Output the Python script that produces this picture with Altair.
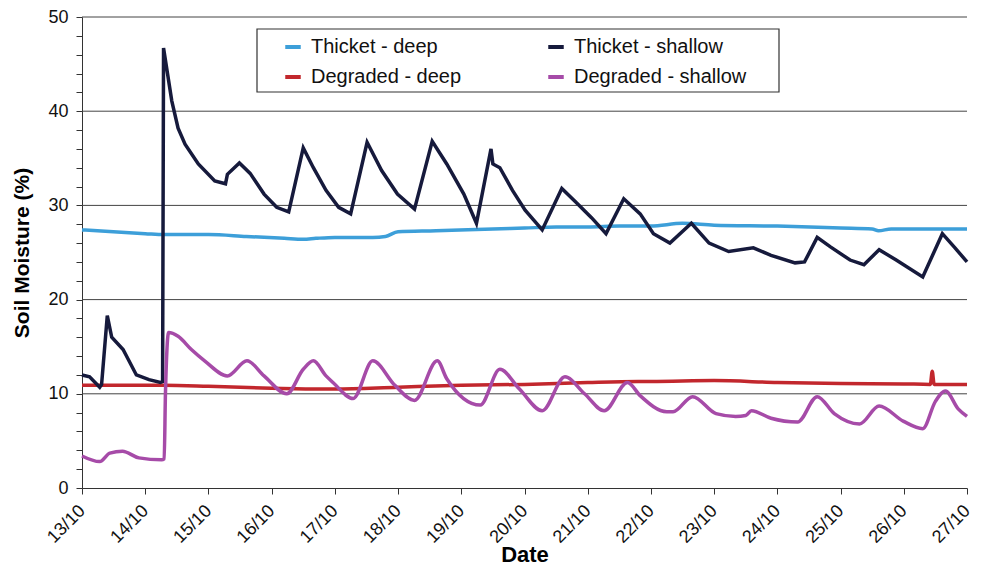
import altair as alt
import pandas as pd

# x = days since 13/10 00:00, y = soil moisture (%)
thicket_shallow_x = [0.00, 0.12, 0.28, 0.31, 0.40, 0.47, 0.65, 0.86, 1.06, 1.24, 1.275, 1.29, 1.42, 1.52, 1.63,
                     1.84, 2.10, 2.27, 2.30, 2.49, 2.66, 2.88, 3.08, 3.27, 3.50, 3.66, 3.86, 4.06, 4.25, 4.51,
                     4.74, 4.99, 5.26, 5.54, 5.77, 6.04, 6.24, 6.47, 6.50, 6.61, 6.81, 7.01, 7.28, 7.59, 7.79,
                     8.06, 8.29, 8.57, 8.83, 9.04, 9.30, 9.64, 9.92, 10.23, 10.62, 10.90, 11.28, 11.43, 11.63,
                     11.84, 12.15, 12.37, 12.61, 12.88, 13.30, 13.61, 13.81, 14.00]
thicket_shallow_y = [12.0, 11.8, 10.7, 11.0, 18.3, 16.0, 14.7, 12.0, 11.5, 11.2, 11.3, 46.7, 41.1, 38.2, 36.5,
                     34.4, 32.6, 32.3, 33.3, 34.5, 33.4, 31.2, 29.8, 29.3, 36.1, 34.0, 31.6, 29.8, 29.1, 36.7,
                     33.7, 31.2, 29.6, 36.8, 34.4, 31.2, 28.1, 36.0, 34.4, 34.0, 31.6, 29.5, 27.4, 31.8, 30.5,
                     28.7, 27.0, 30.7, 29.1, 27.0, 26.0, 28.1, 26.0, 25.1, 25.5, 24.7, 23.9, 24.0, 26.6,
                     25.6, 24.2, 23.7, 25.3, 24.2, 22.4, 27.0, 25.5, 24.0]

thicket_deep_x = [0.0, 1.0, 1.3, 2.0, 2.6, 3.2, 3.5, 3.7, 4.0, 4.6, 4.8, 5.0, 5.6, 6.5, 7.0, 7.5, 8.0,
                  8.5, 9.0, 9.5, 10.0, 11.0, 12.0, 12.5, 12.6, 12.8, 13.5, 14.0]
thicket_deep_y = [27.4, 27.0, 26.9, 26.9, 26.7, 26.5, 26.4, 26.5, 26.6, 26.6, 26.7, 27.2, 27.3, 27.5, 27.6,
                  27.7, 27.7, 27.8, 27.8, 28.1, 27.9, 27.8, 27.6, 27.5, 27.3, 27.5, 27.5, 27.5]

degraded_deep_x = [0.0, 1.0, 1.3, 2.0, 3.0, 3.8, 4.0, 5.0, 6.0, 7.0, 8.0, 8.8, 9.0, 10.0, 11.0, 12.0,
                   13.0, 13.42, 13.45, 13.48, 14.0]
degraded_deep_y = [10.9, 10.9, 10.9, 10.8, 10.6, 10.5, 10.5, 10.7, 10.9, 11.0, 11.2, 11.3, 11.3, 11.4,
                   11.2, 11.1, 11.05, 11.0, 12.4, 11.0, 11.0]

degraded_shallow_x = [0.00, 0.28, 0.44, 0.64, 0.90, 1.26, 1.30, 1.32, 1.37, 1.52, 1.73, 1.94, 2.30, 2.61,
                      2.88, 3.24, 3.50, 3.66, 3.86, 3.97, 4.29, 4.60, 4.95, 5.26, 5.62, 5.77, 6.30, 6.61,
                      6.92, 7.28, 7.64, 7.95, 8.26, 8.63, 8.83, 9.25, 9.35, 9.66, 10.03, 10.34, 10.50,
                      10.59, 10.90, 11.32, 11.63, 11.90, 12.30, 12.61, 12.99, 13.30, 13.50, 13.66, 13.86, 14.00]
degraded_shallow_y = [3.4, 2.8, 3.7, 3.9, 3.2, 3.0, 3.1, 10.0, 16.5, 16.1, 14.7, 13.5, 11.9, 13.5,
                      11.9, 10.0, 12.6, 13.5, 11.9, 11.2, 9.5, 13.5, 10.9, 9.3, 13.5, 11.6, 8.8, 12.6,
                      10.5, 8.2, 11.8, 10.0, 8.2, 11.2, 9.8, 8.1, 8.1, 9.7, 7.9, 7.6, 7.7,
                      8.2, 7.4, 7.0, 9.7, 7.9, 6.8, 8.7, 7.1, 6.3, 9.2, 10.3, 8.4, 7.6]

grid_values = [10, 20, 30, 40, 50]
y_tick_values = list(range(0, 51, 2))
x_tick_values = list(range(0, 15))

# legend is laid out column by column: this order gives rows
# "Thicket - deep | Thicket - shallow" and "Degraded - deep | Degraded - shallow"
series_names = ["Thicket - deep", "Degraded - deep", "Thicket - shallow", "Degraded - shallow"]
series_colors = ["#3d9fd9", "#c2272d", "#161a3c", "#a64ba8"]

frames = []
for name, xs, ys in [
    ("Thicket - deep", thicket_deep_x, thicket_deep_y),
    ("Degraded - deep", degraded_deep_x, degraded_deep_y),
    ("Thicket - shallow", thicket_shallow_x, thicket_shallow_y),
    ("Degraded - shallow", degraded_shallow_x, degraded_shallow_y),
]:
    frames.append(pd.DataFrame({"day": xs, "moisture": ys, "series": name}))
df = pd.concat(frames, ignore_index=True)

x_enc = alt.X("day:Q",
              scale=alt.Scale(domain=[0, 14], nice=False, zero=False),
              axis=alt.Axis(values=x_tick_values,
                            labelExpr="(13 + datum.value) + '/10'",
                            labelAngle=-45, labelAlign="right", labelBaseline="middle",
                            labelFontSize=18, labelPadding=14,
                            grid=False, ticks=True, tickSize=6, tickColor="#333", domainColor="#333",
                            labelColor="#111", title="Date", titleFontSize=22,
                            titleFontWeight="bold", titleBaseline="alphabetic", titleY=73,
                            labelOverlap=False))
y_axis = alt.Axis(values=y_tick_values,
                  labelExpr="datum.value % 10 === 0 ? datum.label : ''",
                  grid=False, ticks=True, tickWidth=1, tickSize=6, tickColor="#333",
                  labelFontSize=18, labelPadding=8,
                  domainColor="#333", labelColor="#111", labelOverlap=False,
                  title="Soil Moisture (%)", titleFontSize=21, titleFontWeight="bold",
                  titlePadding=15)
y_scale = alt.Scale(domain=[0, 50], nice=False)
y_enc = alt.Y("moisture:Q", scale=y_scale, axis=y_axis)
color_enc = alt.Color("series:N",
                      scale=alt.Scale(domain=series_names, range=series_colors),
                      legend=alt.Legend(orient="none", legendX=201, legendY=20, columns=2,
                                        title=None, symbolType="stroke", symbolSize=240,
                                        symbolStrokeWidth=4, labelFontSize=20, labelOffset=8,
                                        columnPadding=78, rowPadding=10, padding=0,
                                        labelLimit=400, labelColor="#111"))

grid = alt.Chart(pd.DataFrame({"moisture": grid_values})).mark_rule(
    color="#444", strokeWidth=1
).encode(y=y_enc)

frame = alt.Chart(pd.DataFrame({"a": [0]})).mark_rect(
    fill="white", stroke="#333", strokeWidth=1.2
).encode(x=alt.value(175), x2=alt.value(697), y=alt.value(12), y2=alt.value(75))

base = alt.Chart(df).encode(x=x_enc, y=y_enc, color=color_enc)
deep_lines = base.transform_filter(
    alt.FieldOneOfPredicate(field="series", oneOf=["Thicket - deep", "Degraded - deep"])
).mark_line(strokeWidth=3.5, interpolate="monotone")
navy_line = base.transform_filter(
    alt.FieldEqualPredicate(field="series", equal="Thicket - shallow")
).mark_line(strokeWidth=3.5)
purple_line = base.transform_filter(
    alt.FieldEqualPredicate(field="series", equal="Degraded - shallow")
).mark_line(strokeWidth=3.5, interpolate="monotone")

chart = alt.layer(grid, frame, deep_lines, navy_line, purple_line).properties(
    width=885, height=471,
    autosize=alt.AutoSizeParams(type="none"),
    padding={"left": 74, "top": 9, "right": 7, "bottom": 79},
).configure(font="Liberation Sans").configure_view(stroke=None)

chart.save("out.html", embed_options={"renderer": "svg", "actions": False})
